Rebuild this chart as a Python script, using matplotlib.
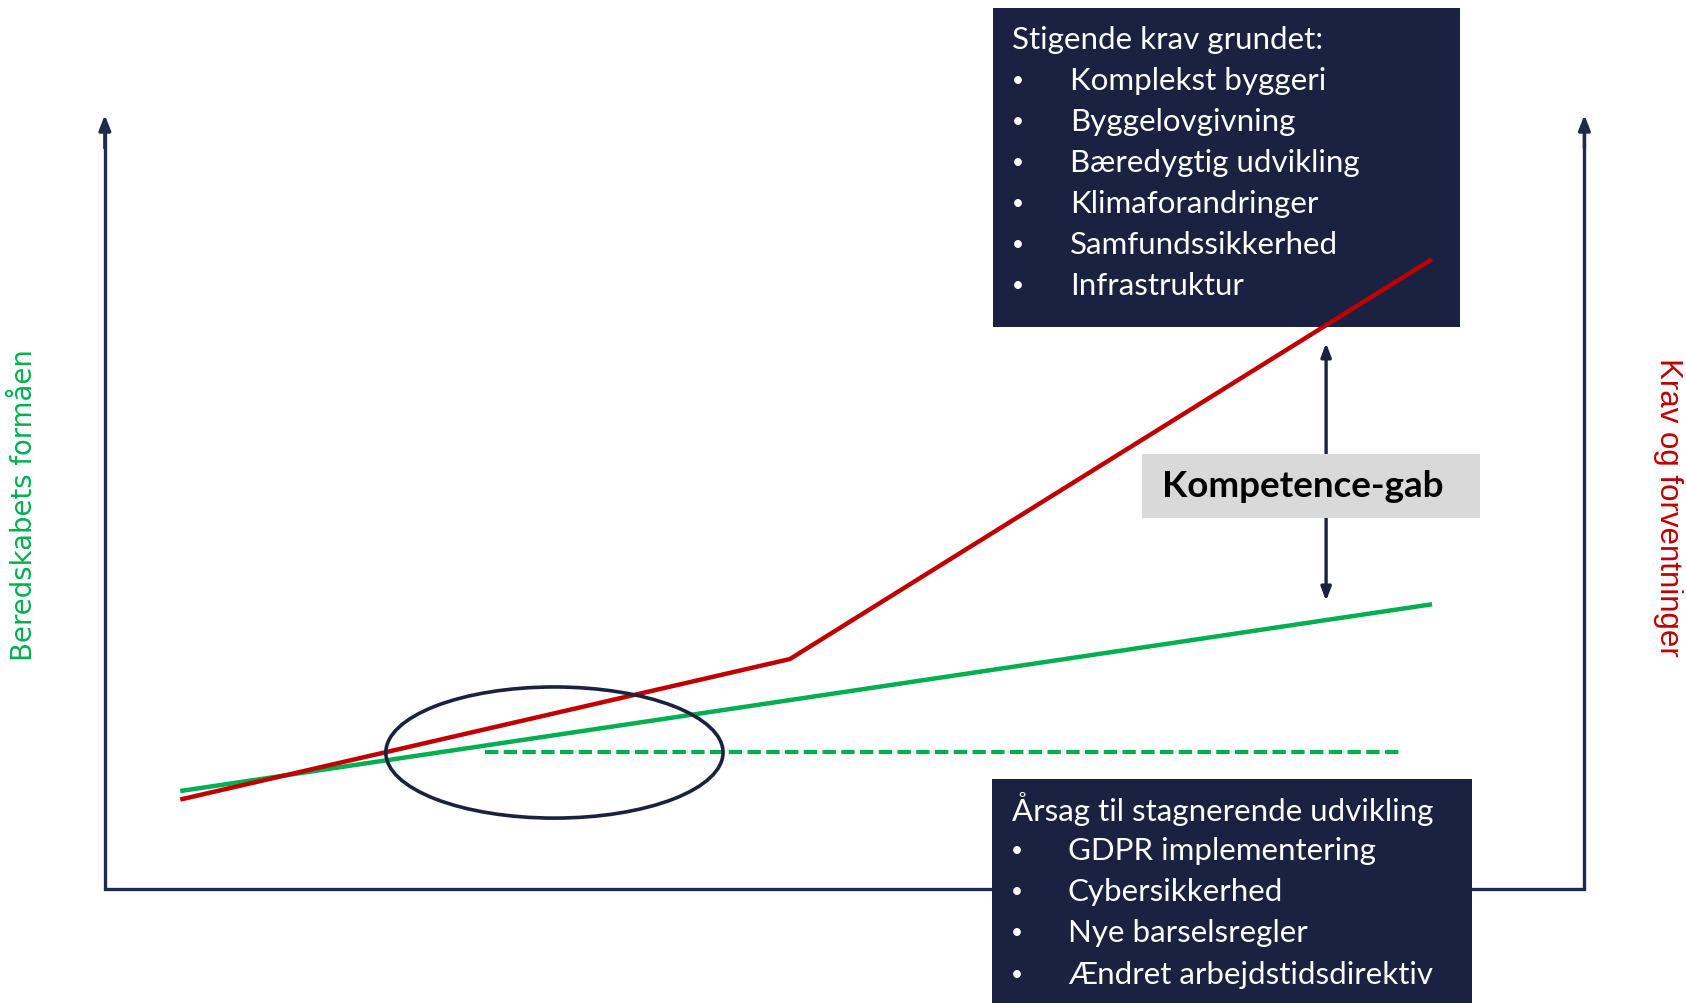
import matplotlib
matplotlib.use("Agg")
import matplotlib.pyplot as plt
from matplotlib.patches import Rectangle, Ellipse

# ---- data (chart units: x 0..100 along time axis, y 0..100 along level axis) ----
green_x = [5.1, 89.7]
green_y = [12.7, 36.9]
red_x = [5.1, 46.3, 89.7]
red_y = [11.6, 29.8, 81.6]
dashed_x = [25.7, 87.6]
dashed_y = [17.7, 17.7]

top_header = "Stigende krav grundet:"
top_items = ["Komplekst byggeri", "Byggelovgivning", "Bæredygtig udvikling",
             "Klimaforandringer", "Samfundssikkerhed", "Infrastruktur"]
bottom_header = "Årsag til stagnerende udvikling"
bottom_items = ["GDPR implementering", "Cybersikkerhed", "Nye barselsregler",
                "Ændret arbejdstidsdirektiv"]
gap_label = "Kompetence-gab"
left_label = "Beredskabets formåen"
right_label = "Krav og forventninger"

NAVY = "#1b2140"
AXIS = "#1f2a4d"
GREEN = "#00b050"
RED = "#c00000"
GRAY = "#d9d9d9"

# layout helpers: reference layout measured on a 1560x934 grid
def X(p):
    return (p - 97) / 13.69

def Y(p):
    return (828 - p) / 7.18

fig = plt.figure(figsize=(16.86, 10.04), dpi=100)
ax = fig.add_axes([0, 0, 1, 1])
ax.set_xlim(X(0), X(1560))
ax.set_ylim(Y(934), Y(0))
ax.axis("off")

# axes frame: left, bottom, right with arrows
lw_axis = 2.4
ax.plot([0, 0, 100, 100], [98, 0, 0, 98], color=AXIS, lw=lw_axis, solid_joinstyle="miter", zorder=2)
for xx in (0, 100):
    ax.annotate("", xy=(xx, 100.3), xytext=(xx, 96),
                arrowprops=dict(arrowstyle="-|>,head_length=0.9,head_width=0.35",
                                color=AXIS, lw=lw_axis, shrinkA=0, shrinkB=0), zorder=2)

# lines
ax.plot(green_x, green_y, color=GREEN, lw=3.2, zorder=4, solid_capstyle="butt")
ax.plot(red_x, red_y, color=RED, lw=3.2, zorder=5, solid_capstyle="butt")
ax.plot(dashed_x, dashed_y, color=GREEN, lw=3.0, ls=(0, (3.2, 1.3)), zorder=3)

# ellipse
ax.add_patch(Ellipse((X(513), Y(701)), 312 / 13.69, 122 / 7.18, fill=False,
                     edgecolor=NAVY, lw=2.6, zorder=6))

# top box
ax.add_patch(Rectangle((X(919), Y(305)), X(1351) - X(919), Y(8) - Y(305),
                       facecolor=NAVY, edgecolor="none", zorder=3))
tfont = dict(family=["Lato", "DejaVu Sans"], color="white", fontsize=22.5, va="center", zorder=7)
bul = dict(tfont)
bul["fontsize"] = 15
ax.text(X(936), Y(37), top_header, ha="left", **tfont)
for i, item in enumerate(top_items):
    yy = 75 + i * 38.2
    ax.text(X(942), Y(yy), "•", ha="center", **bul)
    ax.text(X(990), Y(yy), item, ha="left", **tfont)

# bottom box
ax.add_patch(Rectangle((X(918), Y(934)), X(1362) - X(918), Y(726) - Y(934),
                       facecolor=NAVY, edgecolor="none", zorder=7))
bfont = dict(tfont)
bfont["zorder"] = 8
bbul = dict(bul)
bbul["zorder"] = 8
ax.text(X(936), Y(753), bottom_header, ha="left", **bfont)
for i, item in enumerate(bottom_items):
    yy = 792 + i * 38.2
    ax.text(X(941), Y(yy), "•", ha="center", **bbul)
    ax.text(X(988), Y(yy), item, ha="left", **bfont)

# competence gap double arrow + label box
ax.annotate("", xy=(X(1227), Y(320)), xytext=(X(1227), Y(560)),
            arrowprops=dict(arrowstyle="<|-|>,head_length=0.8,head_width=0.3",
                            color=NAVY, lw=2.4, shrinkA=0, shrinkB=0), zorder=6)
ax.add_patch(Rectangle((X(1057), Y(483)), X(1369) - X(1057), Y(423) - Y(483),
                       facecolor=GRAY, edgecolor="none", zorder=7))
ax.text(X(1205), Y(453), gap_label, ha="center", va="center", fontsize=26.5,
        fontweight="bold", family=["Lato", "DejaVu Sans"], color="black", zorder=8)

# side labels
ax.text(X(22), Y(470), left_label, rotation=90, ha="center", va="center",
        color=GREEN, fontsize=19.8, family=["DejaVu Sans"])
ax.text(X(1543), Y(472), right_label, rotation=-90, ha="center", va="center",
        color=RED, fontsize=22.5, family=["Liberation Sans", "DejaVu Sans"])

fig.savefig("out.png", dpi=100, facecolor="white")
